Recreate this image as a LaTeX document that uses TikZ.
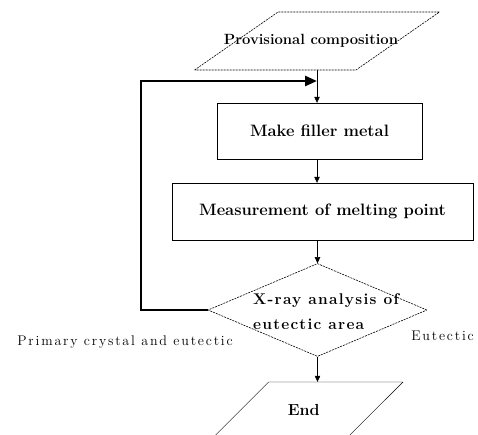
\documentclass[tikz,border=0pt]{standalone}
\usepackage{fontspec}
\setmainfont{Latin Modern Roman}
\newfontfamily\sidefont[LetterSpace=13]{Latin Modern Roman}
\newfontfamily\askfont[LetterSpace=8]{Latin Modern Roman}
\usepackage{tikz}
\usetikzlibrary{shapes,arrows.meta,positioning}

\tikzset{
    iobox/.style={
        trapezium,
        trapezium left angle=#1,
        trapezium right angle=180-#1,
        trapezium stretches=true,
        draw,
        inner sep=1pt
    },
    procbox/.style={
        rectangle,
        draw,
        thin,
        inner sep=0pt,
        font=\fontsize{16.5}{19}\selectfont\bfseries
    },
    dotline/.style={
        dash pattern=on 2pt off 1pt,
        line width=0.6pt
    },
    decision/.style={
        diamond,
        draw,
        dotline,
        inner sep=1pt,
        minimum width=219pt,
        minimum height=93pt
    },
    flow/.style={
        -{Triangle[length=6pt,width=5.5pt]},
        thin
    },
    loopback/.style={
        -{Triangle[length=12pt,width=10pt]},
        line width=2.6pt
    },
    sidelabel/.style={
        font=\sidefont\fontsize{14}{16}\selectfont
    }
}

\begin{document}
\begin{tikzpicture}[x=1pt,y=-1pt]
    \useasboundingbox (0,0) rectangle (478,434);

    % shapes of the flow
    \node[iobox=43, dotline, minimum width=245pt, minimum height=58pt,
        label={[xshift=-6pt,font=\fontsize{14.8}{17}\selectfont\bfseries]center:Provisional composition}]
        (prov) at (317,41) {};

    \node[procbox, minimum width=205pt, minimum height=56pt] (filler) at (319.5,131) {Make filler metal};

    \node[procbox, minimum width=301pt, minimum height=57pt] (melt) at (322.5,211.5) {Measurement of melting point};

    \node[decision,
        label={[align=left,xshift=8.5pt,yshift=-2pt,font=\askfont\fontsize{15.5}{25}\selectfont\bfseries]center:X-ray analysis of\\eutectic area}]
        (xray) at (317.5,310) {};

    \node[iobox=51, minimum width=194.5pt, minimum height=60pt,
        label={[xshift=-2pt,yshift=2pt,font=\fontsize{16}{18}\selectfont\bfseries]center:End}]
        (fin) at (305.75,412) {};

    % branch labels
    \node[sidelabel] (mixed) at (125,342) {Primary crystal and eutectic};
    \node[sidelabel] (eut) at (442.5,336) {Eutectic};

    % connectors
    \coordinate (join) at (prov.south |- 0,81);
    \draw[flow] (prov.south) -- (prov.south |- filler.north);
    \draw[flow] (prov.south |- filler.south) -- (prov.south |- melt.north);
    \draw[flow] (xray.north |- melt.south) -- (xray.north);
    \draw[flow] (xray.south) -- (xray.south |- fin.north);
    \draw[loopback] (xray.west) -- (141,310) |- (join);

\end{tikzpicture}
\end{document}
